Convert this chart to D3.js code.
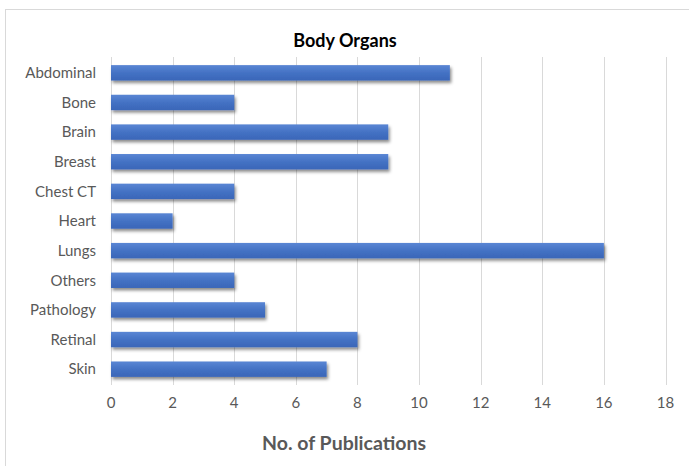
<!DOCTYPE html>
<html><head><meta charset="utf-8">
<script src="https://cdn.jsdelivr.net/npm/d3@7"></script>
<style>body{margin:0;background:#fff;} svg{display:block;}</style>
</head><body>
<script>
const categories = ["Abdominal","Bone","Brain","Breast","Chest CT","Heart","Lungs","Others","Pathology","Retinal","Skin"];
const values = [11,4,9,9,4,2,16,4,5,8,7];
const xTicks = [0,2,4,6,8,10,12,14,16,18];
const title = "Body Organs";
const xTitle = "No. of Publications";

const W=689,H=466;
const svg=d3.select("body").append("svg").attr("width",W).attr("height",H);
const defs=svg.append("defs");
const g1=defs.append("linearGradient").attr("id","bg").attr("x1",0).attr("y1",0).attr("x2",0).attr("y2",1);
g1.append("stop").attr("offset","0%").attr("stop-color","#5a86d4");
g1.append("stop").attr("offset","50%").attr("stop-color","#4472c4");
g1.append("stop").attr("offset","100%").attr("stop-color","#3a66b8");
const f=defs.append("filter").attr("id","sh").attr("x","-5%").attr("y","-30%").attr("width","115%").attr("height","190%");
f.append("feDropShadow").attr("dx",1.5).attr("dy",2.5).attr("stdDeviation",1.5).attr("flood-color","#000").attr("flood-opacity",0.45);

svg.append("rect").attr("x",5.5).attr("y",9.5).attr("width",W+10).attr("height",H+10).attr("fill","#fff").attr("stroke","#d9d9d9");

const font="Lato, 'Open Sans', sans-serif";
const x=d3.scaleLinear().domain([0,18]).range([111,665.5]);
const y=d3.scaleBand().domain(categories).range([58,384]).paddingInner(0.48).paddingOuter(0.24);

svg.append("g").selectAll("line").data(xTicks).join("line")
 .attr("x1",d=>Math.round(x(d))+0.5).attr("x2",d=>Math.round(x(d))+0.5)
 .attr("y1",57).attr("y2",385).attr("stroke","#d9d9d9").attr("stroke-width",1);

svg.append("g").attr("filter","url(#sh)").selectAll("rect").data(categories).join("rect")
 .attr("x",x(0)).attr("y",d=>y(d)).attr("width",(d,i)=>x(values[i])-x(0)).attr("height",y.bandwidth())
 .attr("fill","url(#bg)");

svg.append("g").selectAll("text").data(categories).join("text")
 .attr("x",96).attr("y",d=>y(d)+y.bandwidth()/2).attr("dy","0.35em").attr("text-anchor","end")
 .attr("font-family",font).attr("font-size",15).attr("fill","#595959").text(d=>d);

svg.append("g").selectAll("text").data(xTicks).join("text")
 .attr("x",d=>x(d)).attr("y",408).attr("text-anchor","middle")
 .attr("font-family",font).attr("font-size",15).attr("fill","#595959").text(d=>d);

svg.append("text").attr("x",345).attr("y",47).attr("text-anchor","middle")
 .attr("font-family",font).attr("font-weight","bold").attr("font-size",18).attr("fill","#000").text(title);

svg.append("text").attr("x",344).attr("y",450).attr("text-anchor","middle")
 .attr("font-family",font).attr("font-weight","bold").attr("font-size",19.5).attr("fill","#595959").text(xTitle);
</script>
</body></html>
